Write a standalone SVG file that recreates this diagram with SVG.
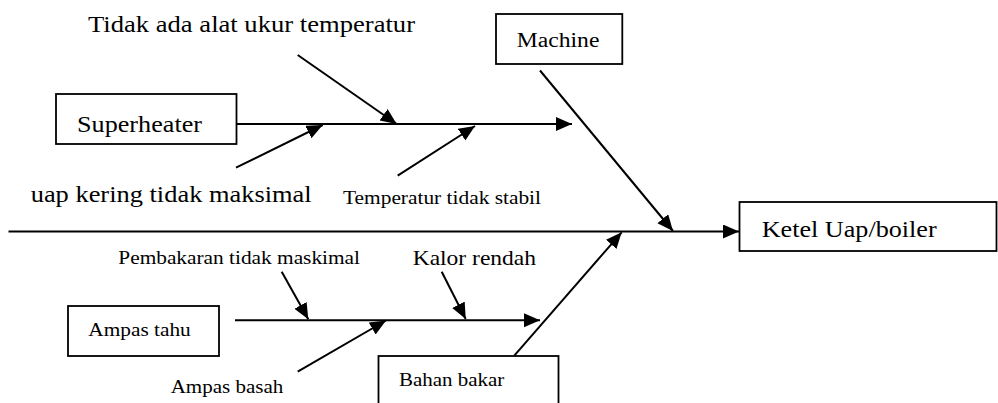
<svg xmlns="http://www.w3.org/2000/svg" width="998" height="403" viewBox="0 0 998 403">
<style>
  .box { fill: #fff; stroke: #000; stroke-width: 1.8; }
  .ln { stroke: #000; stroke-width: 2; fill: none; }
  .arr { marker-end: url(#ah); }
  .t { fill: #000; }
</style>
<defs>
  <marker id="ah" markerUnits="userSpaceOnUse" markerWidth="17" markerHeight="15" refX="16" refY="7" orient="auto">
    <path d="M0,0 L16,7 L0,14 z" fill="#000"/>
  </marker>
</defs>
<rect width="998" height="403" fill="#fff"/>

<g id="connectors">
  <line class="ln arr" x1="8.5" y1="231.5" x2="739" y2="231.5"/>
  <line class="ln arr" x1="237" y1="124" x2="572" y2="124"/>
  <line class="ln arr" x1="540" y1="70.5" x2="673" y2="231"/>
  <line class="ln arr" x1="297.7" y1="55" x2="396.7" y2="124"/>
  <line class="ln arr" x1="236" y1="167.7" x2="322.7" y2="125"/>
  <line class="ln arr" x1="397.7" y1="175.7" x2="475" y2="126"/>
  <line class="ln arr" x1="514.3" y1="355.7" x2="621.7" y2="232.3"/>
  <line class="ln arr" x1="235" y1="320.3" x2="540" y2="320.3"/>
  <line class="ln arr" x1="281.7" y1="271.7" x2="308.3" y2="319.3"/>
  <line class="ln arr" x1="441.7" y1="271.7" x2="465.7" y2="319"/>
  <line class="ln arr" x1="297.7" y1="371.7" x2="386" y2="320.5"/>
</g>

<g font-family="Liberation Serif, DejaVu Serif, serif">
<g id="superheater">
  <rect class="box" x="56" y="94" width="180.5" height="50"/>
  <text class="t" x="77" y="131.5" font-size="23" textLength="125" lengthAdjust="spacingAndGlyphs">Superheater</text>
</g>
<g id="machine">
  <rect class="box" x="496" y="14" width="126.3" height="50"/>
  <text class="t" x="516.7" y="46.7" font-size="20" textLength="82.7" lengthAdjust="spacingAndGlyphs">Machine</text>
</g>
<g id="ketel">
  <rect class="box" x="739.5" y="202" width="257" height="49"/>
  <text class="t" x="761.7" y="237.3" font-size="23" textLength="175" lengthAdjust="spacingAndGlyphs">Ketel Uap/boiler</text>
</g>
<g id="ampas-tahu">
  <rect class="box" x="68" y="306" width="151" height="50"/>
  <text class="t" x="88.3" y="336" font-size="19" textLength="102.4" lengthAdjust="spacingAndGlyphs">Ampas tahu</text>
</g>
<g id="bahan-bakar">
  <rect class="box" x="378.5" y="356" width="180" height="60"/>
  <text class="t" x="399" y="386" font-size="18" textLength="105.3" lengthAdjust="spacingAndGlyphs">Bahan bakar</text>
</g>

<g id="label-tidak-ada">
  <text class="t" x="88" y="32" font-size="23" textLength="327" lengthAdjust="spacingAndGlyphs">Tidak ada alat ukur temperatur</text>
</g>
<g id="label-uap-kering">
  <text class="t" x="30.7" y="201.5" font-size="23" textLength="281" lengthAdjust="spacingAndGlyphs">uap kering tidak maksimal</text>
</g>
<g id="label-temperatur">
  <text class="t" x="343" y="204" font-size="18" textLength="198" lengthAdjust="spacingAndGlyphs">Temperatur tidak stabil</text>
</g>
<g id="label-pembakaran">
  <text class="t" x="118.3" y="264" font-size="18" textLength="241.7" lengthAdjust="spacingAndGlyphs">Pembakaran tidak maskimal</text>
</g>
<g id="label-kalor">
  <text class="t" x="412.7" y="265" font-size="21" textLength="123.3" lengthAdjust="spacingAndGlyphs">Kalor rendah</text>
</g>
<g id="label-ampas-basah">
  <text class="t" x="170.7" y="393.3" font-size="18.5" textLength="112.6" lengthAdjust="spacingAndGlyphs">Ampas basah</text>
</g>
</g>
</svg>
